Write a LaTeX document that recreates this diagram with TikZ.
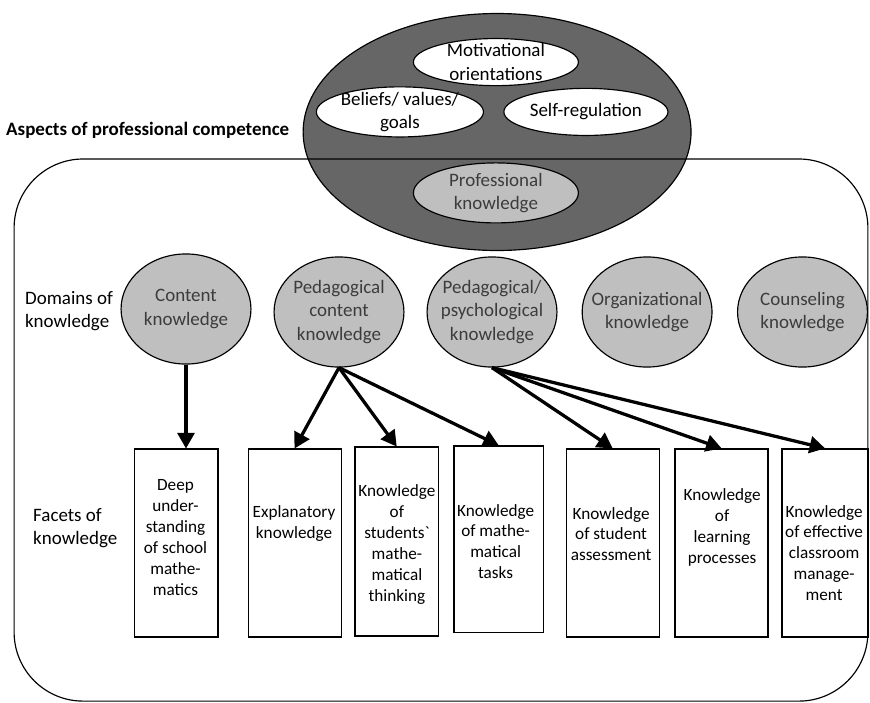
\documentclass[tikz,border=0pt]{standalone}
\usepackage{fontspec}
\setmainfont{Carlito}
\usetikzlibrary{arrows}
\usetikzlibrary{shapes.geometric}
\definecolor{darkfill}{RGB}{102,102,102}
\definecolor{lightfill}{RGB}{191,191,191}
\definecolor{softtext}{RGB}{60,60,60}

\begin{document}
\begin{tikzpicture}
\tikzstyle{aspect oval}=[ellipse,draw,line width=1.1pt,fill=white,inner sep=-5mm,align=center,font=\fontsize{18}{22.5}\selectfont]
\tikzstyle{domain oval}=[ellipse,draw,line width=1.1pt,fill=lightfill,text=softtext,inner sep=-5mm,minimum width=4.33cm,minimum height=3.67cm,align=center,font=\fontsize{18}{22}\selectfont]
\tikzstyle{facet box}=[draw,line width=1.1pt,minimum height=6.27cm]
\tikzstyle{facet text}=[align=center,font=\fontsize{16.3}{19.8}\selectfont]
\tikzstyle{row label}=[anchor=west,align=left,inner sep=0pt,font=\fontsize{18}{22}\selectfont]
\tikzstyle{know arrow}=[-triangle 60,line width=3.1pt]

\useasboundingbox (0,0) rectangle (29,-23.43);

%\draw[help lines] (0,0) grid (29,-23.43);
\node[ellipse,draw,line width=1.1pt,fill=darkfill,minimum width=12.93cm,minimum height=7.9cm] (competence) at (16.57,-4.4) {};
\node[aspect oval,minimum width=5.5cm,minimum height=1.57cm] (motiv) at (16.53,-2.07) {Motivational\\orientations};
\node[aspect oval,minimum width=5.57cm,minimum height=1.67cm] (beliefs) at (13.33,-3.73) {Beliefs/ values/\\goals};
\node[aspect oval,minimum width=5.47cm,minimum height=1.57cm] (selfreg) at (19.53,-3.73) {Self-regulation};
\node[aspect oval,fill=lightfill,text=softtext,minimum width=5.5cm,minimum height=2cm] (profknow) at (16.53,-6.43) {Professional\\knowledge};
\node[row label,font=\fontsize{18}{22}\selectfont\bfseries] (aspects) at (0.2,-4.33) {Aspects of professional competence};

\draw[line width=1.1pt,rounded corners=2.3cm] (0.47,-5.3) rectangle (28.93,-23.37);

\node[row label] (domains) at (0.83,-10.38) {Domains of\\knowledge};
\node[domain oval] (ck) at (6.2,-10.3) {Content\\knowledge};
\node[domain oval] (pck) at (11.3,-10.4) {Pedagogical\\content\\knowledge};
\node[domain oval] (ppk) at (16.4,-10.4) {Pedagogical/\\psychological\\knowledge};
\node[domain oval] (org) at (21.57,-10.4) {Organizational\\knowledge};
\node[domain oval] (cou) at (26.75,-10.4) {Counseling\\knowledge};

\node[row label] (facets) at (1.1,-17.6) {Facets of\\knowledge};
\node[facet box,minimum width=2.77cm] (deep) at (5.88,-18.1) {};
\node[facet box,minimum width=3.1cm] (expl) at (9.82,-18.1) {};
\node[facet box,minimum width=2.77cm,minimum height=6.3cm] (stud) at (13.22,-18.05) {};
\node[facet box,minimum width=2.97cm,minimum height=6.23cm] (tasks) at (16.62,-17.98) {};
\node[facet box,minimum width=3.1cm] (assess) at (20.42,-18.1) {};
\node[facet box,minimum width=3.1cm] (learn) at (24.05,-18.1) {};
\node[facet box,minimum width=2.87cm] (manage) at (27.5,-18.1) {};

\node[facet text] (deep text) at (5.85,-17.92) {Deep\\under-\\standing\\of school\\mathe-\\matics};
\node[facet text] (expl text) at (9.8,-17.45) {Explanatory\\knowledge};
\node[facet text] (stud text) at (13.23,-18.15) {Knowledge\\of\\students\textasciigrave\\mathe-\\matical\\thinking};
\node[facet text] (tasks text) at (16.52,-18.05) {Knowledge\\of mathe-\\matical\\tasks};
\node[facet text] (assess text) at (20.37,-17.8) {Knowledge\\of student\\assessment};
\node[facet text] (learn text) at (24.07,-17.58) {Knowledge\\of\\learning\\processes};
\node[facet text] (manage text) at (27.47,-18.43) {Knowledge\\of effective\\classroom\\manage-\\ment};

\draw [know arrow](ck.south) -- (ck.south |- deep.north);
\draw [know arrow](pck.south) -- (expl.north);
\draw [know arrow](pck.south) -- (stud.north);
\draw [know arrow](pck.south) -- (tasks.north);
\draw [know arrow](ppk.south) -- (assess.north);
\draw [know arrow](ppk.south) -- (learn.north);
\draw [know arrow](ppk.south) -- (manage.north);
\end{tikzpicture}
\end{document}
